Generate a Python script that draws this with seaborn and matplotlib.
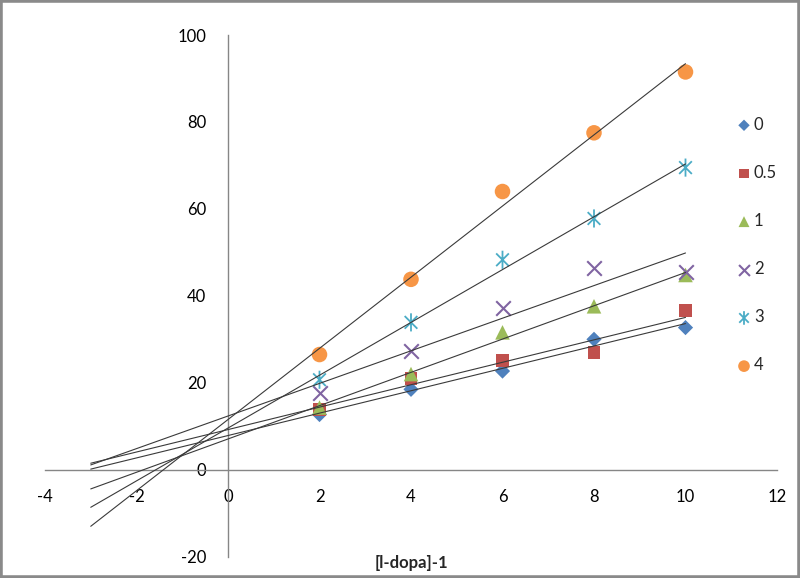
import numpy as np
import pandas as pd
import matplotlib
matplotlib.use("Agg")
import matplotlib.pyplot as plt
from matplotlib.path import Path
from matplotlib.patches import Rectangle
import seaborn as sns

# Data
x_vals = [2, 4, 6, 8, 10]
series_labels = ["0", "0.5", "1", "2", "3", "4"]
y_0 = [12.7, 18.5, 22.7, 30.0, 32.7]
y_05 = [13.8, 21.0, 25.2, 27.0, 36.6]
y_1 = [14.3, 22.0, 31.6, 37.6, 44.8]
y_2 = [17.7, 27.3, 37.2, 46.5, 45.6]
y_3 = [20.7, 33.9, 48.3, 57.8, 69.5]
y_4 = [26.5, 43.8, 64.0, 77.5, 91.5]
all_y = [y_0, y_05, y_1, y_2, y_3, y_4]

x_ticks = [-4, -2, 0, 2, 4, 6, 8, 10, 12]
y_ticks = [-20, 0, 20, 40, 60, 80, 100]
x_label = "[l-dopa]-1"
backcast = 5  # trendline forecast backward (Excel style)

# excel-ish look
colors = ["#4F81BD", "#C0504D", "#9BBB59", "#8064A2", "#4BACC6", "#F79646"]
star = Path([(0, -1), (0, 1), (-0.7, -0.7), (0.7, 0.7), (-0.7, 0.7), (0.7, -0.7)],
            [Path.MOVETO, Path.LINETO, Path.MOVETO, Path.LINETO, Path.MOVETO, Path.LINETO])
markers = ["D", "s", "^", "x", star, "o"]
sizes = [60, 85, 110, 110, 170, 125]

sns.set_style("white")
plt.rcParams["font.family"] = ["Lato", "DejaVu Sans"]
plt.rcParams["font.size"] = 12
plt.rcParams["axes.unicode_minus"] = False

df = pd.DataFrame({"x": x_vals * len(series_labels),
                   "y": np.concatenate(all_y),
                   "series": np.repeat(series_labels, len(x_vals))})

fig = plt.figure(figsize=(8, 5.78), dpi=100)
ax = fig.add_axes([45 / 800, 1 - 556.7 / 578, 732 / 800, (556.7 - 35) / 578])

axis_col = "#868686"
for i, lab in enumerate(series_labels):
    sub = df[df["series"] == lab]
    if markers[i] == "x":
        sns.scatterplot(data=sub, x="x", y="y", ax=ax, marker="x", s=sizes[i],
                        color=colors[i], linewidth=1.5, label=lab, zorder=3)
    elif markers[i] is star:
        sns.scatterplot(data=sub, x="x", y="y", ax=ax, marker=star, s=sizes[i],
                        facecolor="none", edgecolor=colors[i],
                        linewidth=1.3, label=lab, zorder=3)
    else:
        sns.scatterplot(data=sub, x="x", y="y", ax=ax, marker=markers[i], s=sizes[i],
                        color=colors[i], edgecolor="none", label=lab, zorder=3)
    # linear trendline
    k, b = np.polyfit(sub["x"], sub["y"], 1)
    xs = np.array([sub["x"].min() - backcast, sub["x"].max()])
    ax.plot(xs, k * xs + b, color="#3a3a3a", lw=0.8, zorder=4)

ax.set_xlim(-4, 12)
ax.set_ylim(-20, 100)
ax.set_xticks(x_ticks)
ax.set_yticks(y_ticks)

ax.spines["left"].set_position(("data", 0))
ax.spines["bottom"].set_position(("data", 0))
ax.spines["top"].set_visible(False)
ax.spines["right"].set_visible(False)
for s in ("left", "bottom"):
    ax.spines[s].set_color(axis_col)
    ax.spines[s].set_linewidth(1)
ax.tick_params(axis="both", direction="out", length=4.5, width=1, color=axis_col,
               labelsize=12, labelcolor="black", pad=9)
ax.tick_params(axis="y", pad=11)

ax.set_xlabel(x_label, fontweight="bold", fontsize=12)
ax.set_ylabel("")
ax.xaxis.set_label_coords(0.5, 0.003)

leg = ax.legend(loc="upper left", bbox_to_anchor=(729 / 800, 1 - 110 / 578),
                bbox_transform=fig.transFigure, frameon=False, labelspacing=1.93,
                handletextpad=0.1, handlelength=1.0, borderaxespad=0, markerscale=0.75,
                fontsize=12)

fig.patches.append(Rectangle((0, 0), 1, 1, transform=fig.transFigure, fill=False,
                             edgecolor="#8a8a8a", lw=4, clip_on=False))

fig.savefig("out.png", dpi=100)
